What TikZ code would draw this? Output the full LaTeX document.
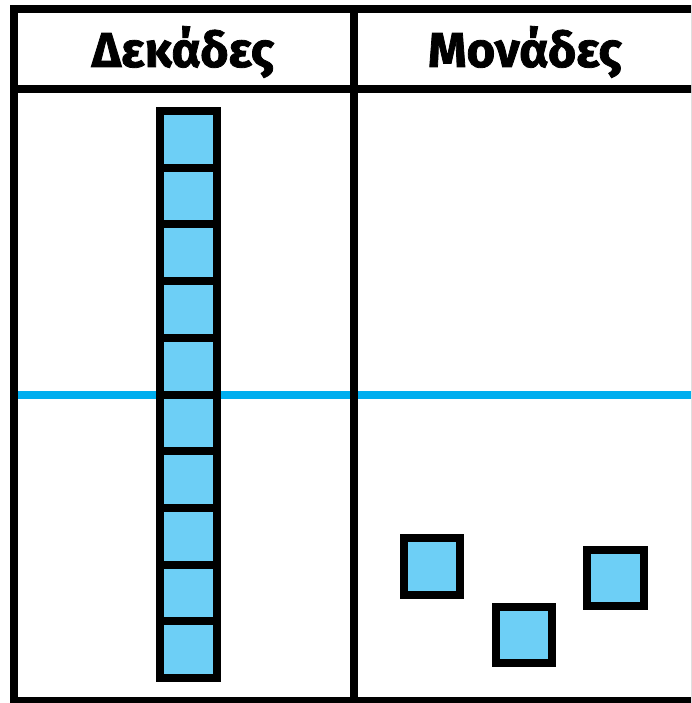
\documentclass[tikz,border=0pt]{standalone}
\usepackage{fontspec}
\setmainfont{Fira Sans}[BoldFeatures={FakeBold=1.6}]
\definecolor{cellblue}{HTML}{6DCFF6}
\definecolor{lineblue}{HTML}{00AEEF}
\begin{document}
\begin{tikzpicture}[x=1pt,y=-1pt,
  frame/.style={line width=8pt,draw=black},
  cube/.style={line width=8pt,draw=black,fill=cellblue},
  head/.style={font=\fontsize{49}{51}\selectfont\bfseries,anchor=base,inner sep=0pt}]
\useasboundingbox (0,0) rectangle (691,703);
\clip (0,0) rectangle (691,703);
% blue middle line
\draw[line width=8pt,lineblue] (18,395) -- (691,395);
% frame
\draw[frame] (14,9.5) rectangle (695,701);
\draw[frame] (10,89) -- (695,89);
\draw[frame] (354,9.5) -- (354,701);
\draw[line width=8pt,lineblue] (358,395) -- (691,395);
% headers
\node[head] (dek) at (183,67) {Δεκάδες};
\node[head] (mon) at (525,67) {Μονάδες};
% tens rod
\foreach \i in {0,...,9}{
  \draw[cube] (160,{111+56.7*\i}) rectangle (217,{111+56.7*(\i+1)});
}
% units
\draw[cube] (404,538) rectangle (460,595);
\draw[cube] (496,607) rectangle (552,663);
\draw[cube] (587,550) rectangle (644,606);
\end{tikzpicture}
\end{document}
